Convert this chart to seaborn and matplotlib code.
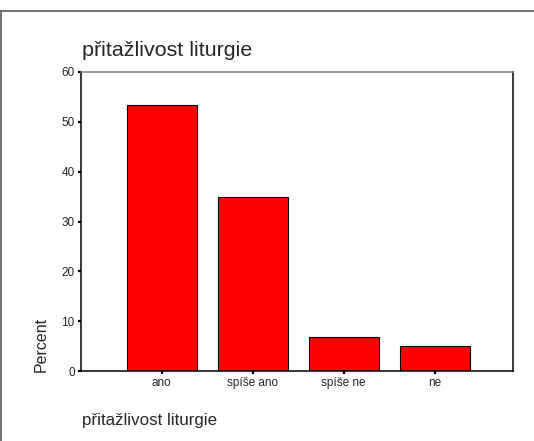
import matplotlib
matplotlib.use("Agg")
import matplotlib.pyplot as plt
import seaborn as sns
import pandas as pd
from matplotlib.lines import Line2D

# data
kategorie = ["ano", "spíše ano", "spíše ne", "ne"]
procenta = [53.4, 34.9, 6.8, 5.0]
yticks = [0, 10, 20, 30, 40, 50, 60]

sns.set_style("white")
plt.rcParams["font.family"] = ["Liberation Sans", "DejaVu Sans"]

df = pd.DataFrame({"kategorie": kategorie, "procenta": procenta})

W, H = 534, 441
fig = plt.figure(figsize=(W / 100, H / 100), dpi=100)
ax = fig.add_axes([81 / W, 1 - 371 / H, (513 - 81) / W, (371 - 72) / H])

sns.barplot(data=df, x="kategorie", y="procenta", color="red", saturation=1,
            edgecolor="black", linewidth=0.8, width=0.77, ax=ax)

ax.set_xlim(-0.885, 3.862)
ax.set_ylim(0, 60)
ax.set_yticks(yticks)
ax.set_xlabel("")
ax.set_ylabel("")
ax.tick_params(axis="both", direction="out", length=2.5, width=1.6,
               color="black", labelsize=8.5, pad=2, left=True, bottom=True)

for side in ["left", "bottom", "right"]:
    ax.spines[side].set_color("black")
    ax.spines[side].set_linewidth(1.1)
ax.spines["top"].set_color("#808080")
ax.spines["top"].set_linewidth(1.1)

# title, axis labels
fig.text(81.5 / W, 1 - 56 / H, "přitažlivost liturgie", fontsize=15.4,
         ha="left", va="baseline")
fig.text(81.5 / W, 1 - 425.5 / H, "přitažlivost liturgie", fontsize=12.2,
         ha="left", va="baseline")
fig.text(41.5 / W, 1 - 371.5 / H, "Percent", fontsize=11.5, rotation=90,
         ha="center", va="bottom")

# outer frame (top and left edges visible)
fig.add_artist(Line2D([0, 1], [1 - 10.5 / H, 1 - 10.5 / H],
                      transform=fig.transFigure, color="#666666", lw=1.3))
fig.add_artist(Line2D([0.6 / W, 0.6 / W], [0, 1 - 10.5 / H],
                      transform=fig.transFigure, color="#666666", lw=1.3))

fig.savefig("out.png", dpi=100)
